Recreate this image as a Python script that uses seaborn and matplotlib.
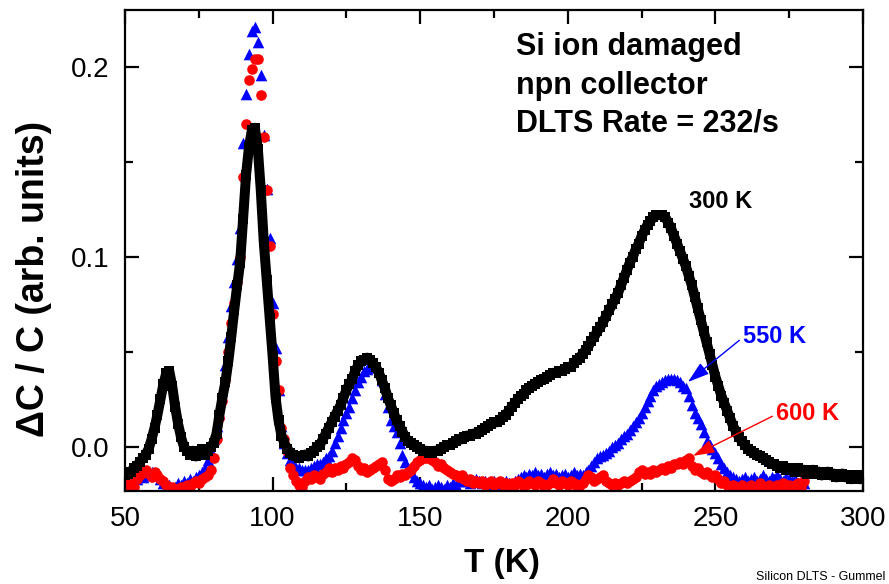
import numpy as np
import pandas as pd
import matplotlib
matplotlib.use("Agg")
import matplotlib.pyplot as plt
from matplotlib.ticker import MultipleLocator, FormatStrFormatter
import seaborn as sns

# DLTS scans: temperature grid (K) and capacitance transient dC/C (arb. units)
temp_300 = np.arange(50, 301, 1)
dlts_300 = [
    -0.015, -0.014, -0.013, -0.011, -0.010, -0.008, -0.006, -0.004, -0.001, 0.004,
    0.010, 0.017, 0.025, 0.033, 0.039, 0.040, 0.032, 0.021, 0.012, 0.005,
    0.000, -0.002, -0.004, -0.002, -0.005, -0.003, -0.001, -0.004, -0.002, 0.000,
    0.002, 0.007, 0.017, 0.026, 0.034, 0.045, 0.058, 0.072, 0.085, 0.097,
    0.120, 0.143, 0.158, 0.167, 0.168, 0.157, 0.135, 0.108, 0.088, 0.068,
    0.048, 0.026, 0.014, 0.006, 0.002, -0.001, -0.003, -0.004, -0.005, -0.006,
    -0.005, -0.004, -0.005, -0.003, -0.002, 0.000, 0.001, 0.004, 0.007, 0.010,
    0.013, 0.016, 0.019, 0.022, 0.026, 0.030, 0.033, 0.036, 0.040, 0.043,
    0.045, 0.046, 0.047, 0.046, 0.044, 0.042, 0.039, 0.035, 0.031, 0.026,
    0.022, 0.018, 0.014, 0.011, 0.008, 0.005, 0.003, 0.002, 0.001, 0.000,
    -0.001, -0.002, -0.002, -0.003, -0.003, -0.002, -0.002, -0.001, 0.000, 0.001,
    0.001, 0.002, 0.003, 0.004, 0.004, 0.005, 0.006, 0.006, 0.007, 0.007,
    0.008, 0.009, 0.010, 0.011, 0.012, 0.013, 0.013, 0.014, 0.016, 0.017,
    0.019, 0.021, 0.023, 0.025, 0.027, 0.028, 0.030, 0.031, 0.032, 0.033,
    0.034, 0.035, 0.036, 0.037, 0.038, 0.039, 0.039, 0.040, 0.040, 0.041,
    0.042, 0.042, 0.044, 0.046, 0.047, 0.049, 0.051, 0.053, 0.056, 0.058,
    0.061, 0.063, 0.066, 0.069, 0.072, 0.075, 0.078, 0.081, 0.085, 0.089,
    0.093, 0.097, 0.100, 0.104, 0.107, 0.111, 0.114, 0.117, 0.119, 0.121,
    0.122, 0.122, 0.122, 0.121, 0.118, 0.115, 0.111, 0.107, 0.103, 0.099,
    0.095, 0.090, 0.085, 0.079, 0.073, 0.067, 0.061, 0.055, 0.049, 0.043,
    0.037, 0.032, 0.027, 0.023, 0.019, 0.015, 0.011, 0.008, 0.005, 0.003,
    0.001, -0.001, -0.002, -0.003, -0.004, -0.005, -0.006, -0.007, -0.008, -0.009,
    -0.009, -0.010, -0.011, -0.010, -0.012, -0.011, -0.012, -0.013, -0.011, -0.013,
    -0.012, -0.014, -0.013, -0.012, -0.014, -0.013, -0.015, -0.014, -0.013, -0.015,
    -0.014, -0.016, -0.015, -0.014, -0.016, -0.015, -0.017, -0.016, -0.015, -0.017,
    -0.016,
]

temp_550 = np.arange(50, 281, 1)
dlts_550 = [
    -0.018, -0.017, -0.019, -0.016, -0.017, -0.015, -0.016, -0.014, -0.015, -0.013,
    -0.014, -0.015, -0.017, -0.019, -0.021, -0.020, -0.022, -0.021, -0.019, -0.020,
    -0.018, -0.019, -0.017, -0.018, -0.016, -0.015, -0.013, -0.011, -0.007, -0.002,
    0.004, 0.011, 0.018, 0.030, 0.043, 0.058, 0.074, 0.087, 0.099, 0.115,
    0.160, 0.186, 0.207, 0.219, 0.221, 0.213, 0.196, 0.164, 0.136, 0.110,
    0.076, 0.052, 0.030, 0.011, 0.002, -0.003, -0.007, -0.009, -0.011, -0.011,
    -0.012, -0.012, -0.012, -0.011, -0.010, -0.009, -0.009, -0.008, -0.006, -0.005,
    -0.002, 0.002, 0.006, 0.010, 0.014, 0.018, 0.021, 0.026, 0.030, 0.034,
    0.037, 0.040, 0.041, 0.042, 0.043, 0.042, 0.040, 0.035, 0.028, 0.021,
    0.014, 0.011, 0.008, 0.002, -0.004, -0.008, -0.011, -0.013, -0.016, -0.018,
    -0.019, -0.020, -0.021, -0.020, -0.022, -0.021, -0.020, -0.021, -0.022, -0.020,
    -0.021, -0.019, -0.020, -0.018, -0.017, -0.018, -0.017, -0.019, -0.018, -0.017,
    -0.018, -0.019, -0.018, -0.020, -0.019, -0.018, -0.019, -0.020, -0.019, -0.018,
    -0.019, -0.020, -0.018, -0.017, -0.016, -0.015, -0.016, -0.014, -0.015, -0.013,
    -0.015, -0.014, -0.016, -0.014, -0.013, -0.015, -0.014, -0.016, -0.015, -0.014,
    -0.016, -0.015, -0.013, -0.015, -0.014, -0.015, -0.013, -0.012, -0.010, -0.008,
    -0.006, -0.005, -0.004, -0.003, -0.002, 0.000, 0.001, 0.002, 0.004, 0.006,
    0.007, 0.009, 0.011, 0.013, 0.015, 0.018, 0.021, 0.024, 0.027, 0.030,
    0.032, 0.033, 0.034, 0.035, 0.036, 0.036, 0.036, 0.035, 0.034, 0.032,
    0.031, 0.027, 0.022, 0.018, 0.015, 0.012, 0.008, 0.003, 0.001, -0.001,
    -0.003, -0.006, -0.009, -0.011, -0.013, -0.015, -0.016, -0.017, -0.018, -0.017,
    -0.016, -0.018, -0.017, -0.016, -0.018, -0.017, -0.015, -0.017, -0.018, -0.016,
    -0.017, -0.015, -0.017, -0.018, -0.016, -0.017, -0.018, -0.017, -0.019, -0.018,
    -0.019,
]

temp_600 = np.arange(50, 281, 1)
dlts_600 = [
    -0.018, -0.020, -0.019, -0.021, -0.017, -0.015, -0.013, -0.012, -0.014, -0.016,
    -0.013, -0.015, -0.017, -0.018, -0.020, -0.022, -0.021, -0.023, -0.022, -0.021,
    -0.022, -0.020, -0.021, -0.019, -0.018, -0.019, -0.017, -0.016, -0.015, -0.012,
    -0.006, 0.004, 0.015, 0.024, 0.035, 0.050, 0.065, 0.076, 0.087, 0.100,
    0.142, 0.170, 0.193, 0.199, 0.204, 0.204, 0.185, 0.163, 0.135, 0.106,
    0.070, 0.045, 0.030, 0.010, 0.004, -0.002, -0.011, -0.015, -0.018, -0.020,
    -0.021, -0.018, -0.016, -0.017, -0.015, -0.016, -0.017, -0.014, -0.013, -0.011,
    -0.013, -0.011, -0.012, -0.010, -0.011, -0.009, -0.008, -0.006, -0.007, -0.010,
    -0.012, -0.011, -0.013, -0.012, -0.011, -0.010, -0.009, -0.008, -0.012, -0.017,
    -0.018, -0.017, -0.015, -0.016, -0.014, -0.015, -0.013, -0.012, -0.010, -0.008,
    -0.007, -0.006, -0.006, -0.006, -0.007, -0.008, -0.010, -0.009, -0.011, -0.012,
    -0.013, -0.014, -0.015, -0.016, -0.015, -0.017, -0.018, -0.017, -0.019, -0.018,
    -0.019, -0.018, -0.020, -0.019, -0.018, -0.020, -0.019, -0.018, -0.020, -0.019,
    -0.021, -0.019, -0.020, -0.018, -0.019, -0.021, -0.020, -0.018, -0.019, -0.020,
    -0.018, -0.019, -0.021, -0.020, -0.019, -0.017, -0.019, -0.020, -0.018, -0.019,
    -0.020, -0.018, -0.019, -0.021, -0.020, -0.019, -0.017, -0.015, -0.016, -0.018,
    -0.017, -0.016, -0.015, -0.018, -0.019, -0.020, -0.019, -0.020, -0.019, -0.018,
    -0.019, -0.018, -0.017, -0.016, -0.013, -0.012, -0.014, -0.013, -0.014, -0.012,
    -0.013, -0.012, -0.011, -0.012, -0.010, -0.011, -0.009, -0.009, -0.008, -0.009,
    -0.007, -0.006, -0.010, -0.012, -0.011, -0.013, -0.014, -0.013, -0.015, -0.016,
    -0.015, -0.017, -0.019, -0.018, -0.020, -0.021, -0.020, -0.022, -0.021, -0.020,
    -0.022, -0.021, -0.020, -0.022, -0.021, -0.019, -0.021, -0.022, -0.020, -0.021,
    -0.022, -0.020, -0.021, -0.019, -0.021, -0.020, -0.022, -0.020, -0.019, -0.021,
    -0.018,
]

x_ticks = [50, 100, 150, 200, 250, 300]
y_ticks = [0.0, 0.1, 0.2]

sns.set_theme(style="ticks")
plt.rcParams["font.family"] = ["Liberation Sans", "DejaVu Sans"]
plt.rcParams.update({
    "axes.linewidth": 1.6,
    "text.color": "black",
    "axes.labelcolor": "black",
    "xtick.color": "black",
    "ytick.color": "black",
    "axes.edgecolor": "black",
})

fig = plt.figure(figsize=(8.89, 5.84), dpi=100)
ax = fig.add_axes([0.1406, 0.1592, 0.8302, 0.8237])

df300 = pd.DataFrame({"T": temp_300, "dC": dlts_300})
df550 = pd.DataFrame({"T": temp_550, "dC": dlts_550})
df600 = pd.DataFrame({"T": temp_600, "dC": dlts_600})

sns.lineplot(data=df300, x="T", y="dC", ax=ax, color="black", lw=7.2,
             marker="s", markersize=7.2, markeredgewidth=0, estimator=None)
sns.scatterplot(data=df550, x="T", y="dC", ax=ax, color="#0000ff", marker="^",
                s=70, linewidth=0)
sns.scatterplot(data=df600, x="T", y="dC", ax=ax, color="#ff0000", marker="o",
                s=58, linewidth=0)

ax.set_xlim(50, 300)
ax.set_ylim(-0.0232, 0.230)
ax.set_xticks(x_ticks)
ax.set_yticks(y_ticks)
ax.xaxis.set_minor_locator(MultipleLocator(25))
ax.yaxis.set_minor_locator(MultipleLocator(0.05))
ax.yaxis.set_major_formatter(FormatStrFormatter("%.1f"))
ax.tick_params(which="both", direction="in", top=True, right=True,
               width=1.6, color="black", labelcolor="black", labelsize=20)
ax.tick_params(which="major", length=10)
ax.tick_params(which="minor", length=5.5)
ax.tick_params(axis="x", pad=11)
ax.tick_params(axis="y", pad=11)
for s in ax.spines.values():
    s.set_visible(True)
    s.set_color("black")

ax.set_xlabel("T (K)", fontsize=24, fontweight="bold")
ax.set_ylabel("\u0394C / C (arb. units)", fontsize=27, fontweight="bold")
ax.xaxis.set_label_coords(0.511, -0.118)
ax.yaxis.set_label_coords(-0.099, 0.44)

info_lines = ["Si ion damaged", "npn collector", "DLTS Rate = 232/s"]
info_y = [0.2063, 0.1858, 0.1658]
for line, yy in zip(info_lines, info_y):
    ax.text(182.3, yy, line, fontsize=22, fontweight="bold", color="black",
            ha="left", va="baseline")

ax.text(241.2, 0.1258, "300 K", fontsize=17, fontweight="bold", color="black",
        ha="left", va="baseline")
ax.annotate("550 K", xy=(240.7, 0.0342), xytext=(259.2, 0.0547),
            fontsize=17, fontweight="bold", color="#0000ff", ha="left", va="baseline",
            arrowprops=dict(arrowstyle="-|>,head_length=1.1,head_width=0.35",
                            color="#0000ff", lw=1.0, shrinkA=0, shrinkB=0,
                            mutation_scale=12, relpos=(0, 0.45)))
ax.annotate("600 K", xy=(242.4, -0.0047), xytext=(270.4, 0.0142),
            fontsize=17, fontweight="bold", color="#ff0000", ha="left", va="baseline",
            arrowprops=dict(arrowstyle="-|>,head_length=1.1,head_width=0.35",
                            color="#ff0000", lw=1.0, shrinkA=0, shrinkB=0,
                            mutation_scale=12, relpos=(0, 0.45)))

fig.text(0.9955, 0.012, "Silicon DLTS - Gummel", fontsize=9, ha="right",
         va="center", color="black")

fig.savefig("out.png", dpi=100)
